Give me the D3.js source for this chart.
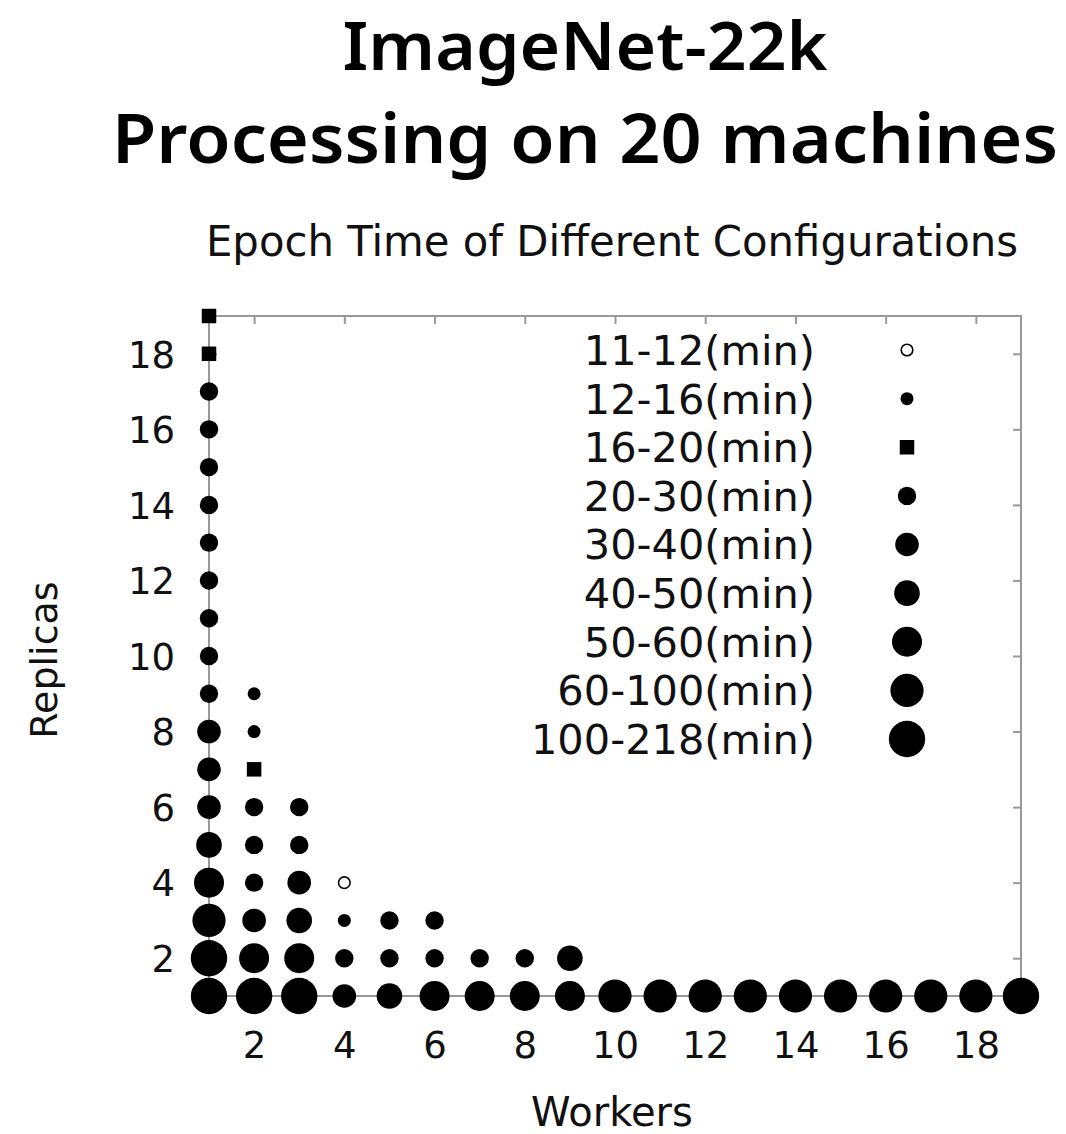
<!DOCTYPE html>
<html>
<head>
<meta charset="utf-8">
<script src="https://cdn.jsdelivr.net/npm/d3@7"></script>
<style>
  html, body { margin: 0; padding: 0; background: #fff; }
  svg { display: block; }
</style>
</head>
<body>
<svg id="chart" width="1066" height="1134"></svg>
<script>
// ---------- data ----------
const titleLines = ["ImageNet-22k", "Processing on 20 machines"];
const subtitle = "Epoch Time of Different Configurations";
const xLabel = "Workers";
const yLabel = "Replicas";
const xTicks = [2, 4, 6, 8, 10, 12, 14, 16, 18];
const yTicks = [2, 4, 6, 8, 10, 12, 14, 16, 18];

// legend categories (epoch time bands)
const categories = ["11-12(min)", "12-16(min)", "16-20(min)", "20-30(min)", "30-40(min)",
                    "40-50(min)", "50-60(min)", "60-100(min)", "100-218(min)"];
const markerShape = ["open", "circle", "square", "circle", "circle", "circle", "circle", "circle", "circle"];

// band index (into categories) for each configuration, listed per worker count, replicas = 1, 2, 3 ...
const workers1  = [8, 8, 7, 6, 5, 4, 4, 4, 3, 3, 3, 3, 3, 3, 3, 3, 3, 2, 2];
const workers2  = [8, 6, 4, 3, 3, 3, 2, 1, 1];
const workers3  = [8, 6, 5, 4, 3, 3];
const workers4  = [4, 3, 1, 0];
const workers5  = [5, 3, 3];
const workers6  = [6, 3, 3];
const workers7  = [6, 3];
const workers8  = [6, 3];
const workers9  = [6, 5];
const workers10 = [7];
const workers11 = [7];
const workers12 = [7];
const workers13 = [7];
const workers14 = [7];
const workers15 = [7];
const workers16 = [7];
const workers17 = [7];
const workers18 = [7];
const workers19 = [8];
const columns = [workers1, workers2, workers3, workers4, workers5, workers6, workers7, workers8,
                 workers9, workers10, workers11, workers12, workers13, workers14, workers15,
                 workers16, workers17, workers18, workers19];

const points = [];
columns.forEach((col, i) => col.forEach((band, j) => points.push({ w: i + 1, r: j + 1, band })));

// ---------- layout ----------
const svg = d3.select("#chart");
const plot = { left: 209, right: 1021, top: 316, bottom: 996 };
const x = d3.scaleLinear().domain([1, 19]).range([plot.left, plot.right]);
const y = d3.scaleLinear().domain([1, 19]).range([plot.bottom, plot.top]);
const size = d3.scaleOrdinal().domain(d3.range(9)).range([5.8, 6.5, 14.5, 9.2, 11.8, 12.8, 15, 16.6, 18.2]);

const axisFont = "'DejaVu Sans', sans-serif";
const frameColor = "#999";
const textColor = "#111";

// titles: font sized by cap height, stretched horizontally to the reference width
function fitTitle(text, cx, baseline, fontSize, width) {
  const t = svg.append("text").attr("x", 0).attr("y", 0).attr("text-anchor", "middle")
    .attr("font-family", "'Noto Sans', 'Open Sans', sans-serif")
    .attr("font-weight", 600).attr("font-size", fontSize).attr("fill", "#000").text(text);
  const len = t.node().getComputedTextLength();
  t.attr("transform", `translate(${cx},${baseline}) scale(${width / len},1)`);
}
fitTitle(titleLines[0], 585, 70, 66, 485);
fitTitle(titleLines[1], 585, 163, 68, 946);

svg.append("text").attr("x", 612).attr("y", 256).attr("text-anchor", "middle")
  .attr("font-family", axisFont).attr("font-size", 41.8).attr("fill", textColor).text(subtitle);

// frame
const g = svg.append("g");
g.append("rect").attr("x", plot.left).attr("y", plot.top)
  .attr("width", plot.right - plot.left).attr("height", plot.bottom - plot.top)
  .attr("fill", "none").attr("stroke", frameColor).attr("stroke-width", 2);

// axes (ticks inward, mirrored)
const tickLen = 8;
const axB = d3.axisBottom(x).tickValues(xTicks).tickSize(tickLen).tickSizeOuter(0).tickFormat(d3.format("d"));
const axT = d3.axisTop(x).tickValues(xTicks).tickSize(-tickLen).tickSizeOuter(0).tickFormat("");
const axL = d3.axisLeft(y).tickValues(yTicks).tickSize(-tickLen).tickSizeOuter(0).tickFormat(d3.format("d"));
const axR = d3.axisRight(y).tickValues(yTicks).tickSize(-tickLen).tickSizeOuter(0).tickFormat("");

function styleAxis(sel) {
  sel.select(".domain").remove();
  sel.selectAll(".tick line").attr("stroke", frameColor).attr("stroke-width", 2);
  sel.selectAll(".tick text").attr("font-family", axisFont).attr("font-size", 37).attr("fill", textColor);
}
const gB = g.append("g").attr("transform", `translate(0,${plot.bottom})`).call(axB).call(styleAxis);
gB.selectAll(".tick line").attr("y2", -tickLen);
gB.selectAll(".tick text").attr("y", 62).attr("dy", 0);
g.append("g").attr("transform", `translate(0,${plot.top})`).call(axT).call(styleAxis);
const gL = g.append("g").attr("transform", `translate(${plot.left},0)`).call(axL).call(styleAxis);
gL.selectAll(".tick text").attr("x", -34).attr("dy", "0.36em");
g.append("g").attr("transform", `translate(${plot.right},0)`).call(axR).call(styleAxis);

// axis labels
svg.append("text").attr("x", 612).attr("y", 1126).attr("text-anchor", "middle")
  .attr("font-family", axisFont).attr("font-size", 40).attr("fill", textColor).text(xLabel);
svg.append("text").attr("transform", "translate(57,660) rotate(-90)").attr("text-anchor", "middle")
  .attr("font-family", axisFont).attr("font-size", 38).attr("fill", textColor).text(yLabel);

// markers
function drawMarker(sel, band) {
  const s = markerShape[band];
  if (s === "square") {
    sel.append("rect").attr("x", -size(band) / 2).attr("y", -size(band) / 2)
      .attr("width", size(band)).attr("height", size(band)).attr("fill", "#000");
  } else if (s === "open") {
    sel.append("circle").attr("r", size(band)).attr("fill", "#fff")
      .attr("stroke", "#000").attr("stroke-width", 1.6);
  } else {
    sel.append("circle").attr("r", size(band)).attr("fill", "#000");
  }
}
const marks = svg.append("g");
marks.selectAll("g.pt").data(points).join("g").attr("class", "pt")
  .attr("transform", d => `translate(${x(d.w)},${y(d.r)})`)
  .each(function (d) { drawMarker(d3.select(this), d.band); });

// legend
const legendRow = d3.scaleLinear().domain([0, 8]).range([350, 739]);
const leg = svg.append("g");
categories.forEach((c, i) => {
  const row = leg.append("g").attr("transform", `translate(0,${legendRow(i)})`);
  row.append("text").attr("x", 815).attr("y", 0).attr("dy", "0.36em").attr("text-anchor", "end")
    .attr("font-family", axisFont).attr("font-size", 41.5).attr("fill", textColor).text(c);
  const m = row.append("g").attr("transform", "translate(907,0)");
  drawMarker(m, i);
});
</script>
</body>
</html>
